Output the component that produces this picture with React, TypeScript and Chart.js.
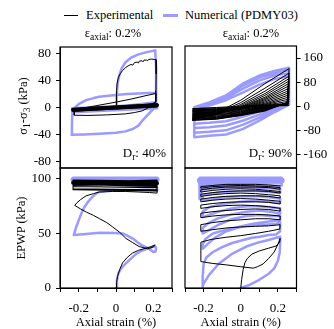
import React, { useEffect, useRef } from 'react';
import { Chart, registerables } from 'chart.js';
Chart.register(...registerables);

const BLUE = '#9a9aff';
const BLACK = '#000000';
const FONT = "'Times New Roman', 'Liberation Serif', 'DejaVu Serif', Times, serif";

type Pair = [number, number];

// ---- axes ----
const strainTicks = [-0.3, -0.2, -0.1, 0, 0.1, 0.2, 0.3];
const strainTickLabels = ['', '-0.2', '', '0', '', '0.2', ''];
const dev40Ticks = [-80, -40, 0, 40, 80];
const dev90Ticks = [-160, -80, 0, 80, 160];
const epwpTicks = [0, 50, 100];

// ---- Dr 40%: deviatoric stress (kPa) vs axial strain (%) ----
const dev40Exp: Pair[] = [
  [0, 0], [0.002, 12], [0.004, 25], [0.006, 36], [0.012, 44], [0.022, 50], [0.035, 55], [0.05, 59], [0.065, 62],
  [0.08, 64], [0.09, 63], [0.1, 67], [0.115, 67.5], [0.12, 66], [0.125, 69], [0.14, 69.5], [0.145, 68], [0.15, 70.5],
  [0.165, 70.5], [0.17, 69.5], [0.175, 71.5], [0.19, 72], [0.205, 71.5], [0.215, 71], [0.215, 50], [0.214, 25],
  [0.212, 8], [0.19, 5], [0.12, 3], [0.03, 1.5], [-0.08, -0.5], [-0.18, -2.5], [-0.225, -3.5], [-0.225, -8],
  [-0.222, -11.5], [-0.15, -11.8], [-0.05, -11], [0.05, -9.5], [0.1, -7.5], [0.14, -5], [0.17, -1], [0.2, 4],
  [0.215, 9], [0.215, 21], [0.15, 17], [0.08, 12.5], [0, 8], [-0.08, 4], [-0.16, 0], [-0.23, -3],
];
const dev40ExpBand: Pair[] = [
  [-0.23, -5], [0.22, 2], [0.22, 5], [-0.23, -2], [-0.23, -6], [0.22, 3], [0.22, 6], [-0.23, -3], [-0.23, -4],
  [0.22, 4], [0.22, 1], [-0.23, -5.5], [-0.23, -1.5], [0.22, 5.5], [0.22, 2.5], [-0.23, -4.5],
];
const dev40ExpCore: Pair[] = [[-0.23, -3.5], [0.22, 3.5]];
const dev40Num: Pair[] = [
  [0, 0], [0.003, 15], [0.009, 36], [0.018, 48], [0.03, 58], [0.05, 67], [0.08, 74], [0.12, 79], [0.16, 82],
  [0.21, 85], [0.215, 60], [0.215, 30], [0.215, 10], [0.212, 3], [0.2, -2], [0.17, -11], [0.14, -20], [0.12, -27],
  [0.09, -32], [0.05, -35.5], [0, -37.5], [-0.09, -39], [-0.17, -40], [-0.238, -40.5], [-0.236, -25],
  [-0.234, -10], [-0.232, -3], [-0.2, 5], [-0.16, 11], [-0.12, 14], [-0.09, 16], [-0.04, 17.5], [0, 18.5],
  [0.06, 20], [0.12, 21], [0.17, 21.5], [0.215, 22], [0.215, 8], [0.1, 4], [0, 1], [-0.1, -2], [-0.232, -5],
];
const dev40NumBand: Pair[] = [
  [-0.235, -7], [0.22, -1], [0.22, 5], [-0.235, -1], [-0.235, -5], [0.22, 2],
];

// ---- Dr 40%: EPWP (kPa) vs axial strain (%) ----
const epwp40Exp: Pair[] = [
  [0, 0], [0.003, 5], [0.008, 10.5], [0.02, 17], [0.035, 23], [0.06, 28], [0.088, 32], [0.12, 34.5], [0.159, 36.5],
  [0.19, 38], [0.21, 39.5], [0.2, 37.5], [0.17, 36], [0.124, 38], [0.09, 41.5], [0.053, 45.5], [0.02, 51],
  [-0.018, 56], [-0.05, 60], [-0.089, 63.6], [-0.12, 66.5], [-0.159, 69.6], [-0.19, 72.5], [-0.221, 75.7],
  [-0.21, 78], [-0.19, 81], [-0.16, 84.5], [-0.12, 86.5], [-0.09, 88], [-0.02, 88.5], [0.05, 88.5], [0.12, 88],
  [0.18, 87.5], [0.22, 87], [0.22, 90],
];
const epwp40ExpBand: Pair[] = [
  [-0.23, 95], [0.22, 93], [0.22, 97], [-0.23, 98], [-0.23, 94], [0.22, 95], [0.22, 99], [-0.23, 97],
  [-0.23, 91], [0.22, 90], [0.22, 94], [-0.23, 96], [-0.23, 99], [0.22, 98], [0.22, 92], [-0.23, 93],
  [-0.23, 90], [0.22, 89], [0.22, 96], [-0.23, 95.5],
];
const epwp40ExpCore: Pair[] = [[-0.23, 96.5], [0.22, 96]];
const epwp40Num: Pair[] = [
  [0, 0], [0.005, 7], [0.013, 13.6], [0.03, 18.5], [0.053, 22.7], [0.08, 27], [0.106, 31], [0.13, 33.5],
  [0.159, 35.4], [0.185, 37], [0.204, 38.5], [0.215, 37], [0.212, 33.5], [0.2, 33], [0.185, 35], [0.165, 37],
  [0.14, 39], [0.124, 40.9], [0.1, 44], [0.088, 45.5], [0.06, 48], [0.035, 50], [0, 50.5], [-0.089, 50.6],
  [-0.16, 49.5], [-0.226, 48.5], [-0.215, 55], [-0.2, 62], [-0.185, 68.5], [-0.17, 74], [-0.15, 79],
  [-0.13, 83], [-0.11, 86], [-0.09, 88], [-0.05, 89], [0, 89.4], [0.08, 89.6], [0.155, 90], [0.22, 89.5],
  [0.22, 92],
];
const epwp40NumBand: Pair[] = [
  [-0.23, 97], [0.22, 98], [0.22, 101], [-0.23, 101], [-0.23, 98.5], [0.22, 99.5],
];
const epwp40NumCore: Pair[] = [[-0.23, 99.5], [0.22, 99.5]];

// ---- Dr 90%: deviatoric stress (kPa) vs axial strain (%) ----
const dev90Exp: Pair[] = [
  [0, 0], [0.13, 3], [0.26, 4],
  [0.25, 2], [0.13, 1], [0, -3], [-0.13, -6], [-0.26, -8],
  [-0.13, -4], [0, 0], [0.13, 3], [0.26, 10],
  [0.25, 4], [0.13, 0], [0, -6], [-0.13, -10], [-0.26, -12],
  [-0.13, -8], [0, -3], [0.13, 3], [0.26, 17],
  [0.25, 5], [0.13, 0], [0, -9], [-0.13, -13], [-0.26, -15],
  [-0.13, -11], [0, -5], [0.13, 5], [0.26, 24],
  [0.25, 6], [0.13, 0], [0, -11], [-0.13, -16], [-0.26, -18],
  [-0.13, -14], [0, -6], [0.13, 7], [0.26, 31],
  [0.25, 7], [0.13, -1], [0, -14], [-0.13, -19], [-0.26, -22],
  [-0.13, -17], [0, -8], [0.13, 10], [0.26, 38],
  [0.25, 8], [0.13, -2], [0, -16], [-0.13, -22], [-0.26, -25],
  [-0.13, -19], [0, -9], [0.13, 14], [0.26, 45],
  [0.25, 8], [0.13, -3], [0, -18], [-0.13, -25], [-0.26, -28],
  [-0.13, -21], [0, -9], [0.13, 18], [0.26, 52],
  [0.25, 9], [0.13, -4], [0, -20], [-0.13, -28], [-0.26, -31],
  [-0.13, -23], [0, -8], [0.13, 22], [0.26, 60],
  [0.25, 9], [0.13, -5], [0, -22], [-0.13, -30], [-0.26, -34],
  [-0.13, -25], [0, -6], [0.13, 26], [0.26, 68],
  [0.25, 10], [0.13, -6], [0, -24], [-0.13, -33], [-0.26, -37],
  [-0.13, -26], [0, -4], [0.13, 30], [0.26, 76],
  [0.25, 10], [0.13, -8], [0, -26], [-0.13, -35], [-0.26, -39],
  [-0.13, -27], [0, -2], [0.13, 36], [0.26, 84],
  [0.25, 10], [0.13, -10], [0, -27], [-0.13, -37], [-0.26, -41],
  [-0.13, -27], [0, 2], [0.13, 42], [0.26, 92],
  [0.25, 11], [0.13, -11], [0, -28], [-0.13, -39], [-0.26, -43],
  [-0.13, -26], [0, 6], [0.13, 50], [0.26, 100],
  [0.25, 11], [0.13, -12], [0, -29], [-0.13, -40], [-0.26, -44],
  [-0.13, -24], [0, 12], [0.13, 60], [0.26, 110],
  [0.25, 12], [0.13, -14], [0, -30], [-0.13, -42], [-0.26, -46],
  [-0.13, -22], [0, 20], [0.13, 75], [0.26, 125],
  [0.25, 12], [0.13, -16], [0, -31], [-0.13, -43], [-0.26, -47],
];
const dev90Num: Pair[] = [
  [-0.25, -58], [-0.17, -55], [-0.08, -50], [0.01, -35], [0.1, -18], [0.18, 0], [0.26, 12], [0.26, 100],
  [0.18, 90], [0.1, 72], [0.01, 45], [-0.08, 20], [-0.17, 2], [-0.25, -10], [-0.25, -72],
  [-0.17, -70], [-0.08, -64], [0.01, -48], [0.1, -28], [0.18, -6], [0.26, 10], [0.26, 110],
  [0.18, 102], [0.1, 85], [0.01, 58], [-0.08, 28], [-0.17, 7], [-0.25, -6], [-0.25, -88],
  [-0.17, -85], [-0.08, -80], [0.01, -62], [0.1, -38], [0.18, -12], [0.26, 8], [0.26, 120],
  [0.18, 110], [0.1, 95], [0.01, 68], [-0.08, 33], [-0.17, 10], [-0.25, -4], [-0.25, -103],
  [-0.17, -98], [-0.08, -94], [0.01, -76], [0.1, -48], [0.18, -20], [0.26, 5], [0.26, 128],
  [0.18, 117], [0.1, 102], [0.01, 75], [-0.08, 36], [-0.17, 13], [-0.25, -3],
];

// ---- Dr 90%: EPWP (kPa) vs axial strain (%) ----
const epwp90Exp: Pair[] = [
  [0, 0], [0.005, 8], [0.013, 17], [0.022, 23], [0.035, 27], [0.06, 31], [0.1, 34], [0.15, 36.5], [0.19, 38.5],
  [0.21, 42], [0.212, 45.5], [0.2, 40], [0.18, 33], [0.15, 27], [0.12, 22], [0.09, 19.5], [0.067, 18.2], [0, 19.5],
  [-0.078, 21.2], [-0.15, 22.5], [-0.214, 24.2],
  [-0.215, 33], [-0.214, 42], [-0.16, 44.5], [-0.08, 46.5], [0, 48], [0.08, 50], [0.15, 52], [0.21, 54], [0.212, 58],
  [0.15, 57], [0.08, 56.5], [0, 56], [-0.08, 55], [-0.15, 53.5], [-0.215, 52],
  [-0.215, 58], [-0.15, 60], [-0.08, 61.5], [0, 62.5], [0.08, 63.5], [0.15, 63.5], [0.212, 62.5], [0.212, 66],
  [0.15, 67], [0.08, 67.5], [0, 67.5], [-0.08, 67], [-0.15, 66], [-0.215, 64.5],
  [-0.215, 68.5], [-0.15, 70], [-0.08, 71], [0, 72], [0.08, 72.5], [0.15, 72], [0.212, 70.5], [0.212, 73],
  [0.15, 74.5], [0.08, 75.5], [0, 76], [-0.08, 75.5], [-0.15, 74.5], [-0.215, 73],
  [-0.215, 76], [-0.15, 77.5], [-0.08, 78.5], [0, 79], [0.08, 79], [0.15, 78.5], [0.212, 77], [0.212, 79.5],
  [0.15, 80.5], [0.08, 81.5], [0, 82], [-0.08, 81.5], [-0.15, 80.5], [-0.215, 79],
  [-0.215, 81.5], [-0.15, 83], [-0.08, 84], [0, 84.5], [0.08, 84.5], [0.15, 84], [0.212, 82.5], [0.212, 84.5],
  [0.15, 85.5], [0.08, 86.5], [0, 87], [-0.08, 86.5], [-0.15, 85.5], [-0.215, 84],
  [-0.215, 86], [-0.15, 87.5], [-0.08, 88.5], [0, 89], [0.08, 89], [0.15, 88.5], [0.212, 87], [0.212, 88.5],
  [0.15, 89.5], [0.08, 90.5], [0, 91], [-0.08, 90.5], [-0.15, 89.5], [-0.215, 88],
  [-0.215, 90], [-0.15, 91.5], [-0.08, 92.5], [0, 92.5], [0.08, 92.5], [0.15, 92], [0.212, 90.5], [0.212, 92],
  [0.15, 93], [0.08, 93.5], [0, 94], [-0.08, 93.5], [-0.15, 93], [-0.215, 91.5],
  [-0.215, 93], [-0.15, 94], [-0.08, 95], [0, 95], [0.08, 95], [0.15, 94.5], [0.212, 93.5],
];
const epwp90Num: Pair[] = [
  [0, 0], [0.05, 3], [0.1, 7.5], [0.15, 13], [0.18, 18], [0.2, 25], [0.21, 33], [0.212, 42], [0.212, 47],
  [0.19, 46], [0.15, 44], [0.1, 42], [0.03, 38], [-0.05, 31], [-0.12, 22], [-0.17, 12], [-0.2, 4], [-0.205, 1],
  [-0.205, 10], [-0.2, 22], [-0.185, 28], [-0.15, 33], [-0.1, 37.5], [-0.05, 41], [0.013, 44], [0.06, 46],
  [0.103, 47], [0.15, 48.5], [0.19, 49], [0.212, 52], [0.212, 60],
  [0.19, 59], [0.13, 58], [0.067, 58], [0, 56], [-0.078, 52], [-0.14, 46], [-0.18, 40], [-0.205, 36],
  [-0.205, 40], [-0.19, 45], [-0.15, 50], [-0.078, 53.5], [0, 56.5], [0.067, 59], [0.15, 61], [0.212, 62], [0.212, 66],
  [0.16, 66], [0.1, 67], [0.03, 66], [-0.05, 63], [-0.12, 58], [-0.17, 53], [-0.205, 50],
  [-0.205, 55], [-0.17, 60], [-0.12, 64], [-0.05, 67.5], [0.03, 70], [0.1, 71], [0.16, 70], [0.212, 68], [0.212, 73],
  [0.16, 74], [0.1, 75], [0.03, 75], [-0.05, 73], [-0.12, 70], [-0.17, 67], [-0.205, 65],
  [-0.205, 70], [-0.17, 74], [-0.1, 77], [0, 79], [0.1, 80], [0.212, 78], [0.212, 82],
  [0.1, 84], [0, 84], [-0.1, 83], [-0.205, 80], [-0.205, 85], [-0.1, 88], [0, 89], [0.1, 89], [0.212, 87],
  [0.212, 91], [0.1, 92], [0, 92.5], [-0.1, 92], [-0.215, 90],
];
const epwp90NumBand: Pair[] = [
  [-0.22, 93], [0.22, 94], [0.22, 101], [-0.22, 101], [-0.22, 95], [0.22, 97], [0.22, 99], [-0.22, 98],
];
const epwp90NumCore: Pair[] = [[-0.22, 98.5], [0.22, 98.5]];
const epwp90NumEdge: Pair[] = [[-0.218, 82], [-0.218, 100]];

type Series = { data: Pair[]; color: string; width: number; order: number };

interface PanelCfg {
  series: Series[];
  yMin: number;
  yMax: number;
  yTicks: number[];
  yPos: 'left' | 'right';
  yLabels: boolean;
  yTickMarks: boolean;
  yWidth: number;
  yPad: number;
  showX: boolean;
  padding: { left: number; right: number; top: number; bottom: number };
}

const boxPlugin = {
  id: 'panelBox',
  afterDatasetsDraw(chart: any) {
    const { ctx, chartArea } = chart;
    const { left, top, right, bottom } = chartArea;
    ctx.save();
    ctx.strokeStyle = '#000';
    ctx.lineWidth = 1.2;
    ctx.strokeRect(left, top, right - left, bottom - top);
    ctx.restore();
  },
};

function buildChart(canvas: HTMLCanvasElement, cfg: PanelCfg) {
  return new Chart(canvas, {
    type: 'scatter',
    data: {
      datasets: cfg.series.map((s) => ({
        data: s.data.map(([x, y]) => ({ x, y })),
        showLine: true,
        borderColor: s.color,
        backgroundColor: s.color,
        borderWidth: s.width,
        pointRadius: 0,
        pointHoverRadius: 0,
        tension: 0,
        fill: false,
        order: s.order,
        borderJoinStyle: 'round',
        borderCapStyle: 'round',
      })),
    },
    options: {
      animation: false,
      responsive: false,
      maintainAspectRatio: false,
      events: [],
      layout: { padding: cfg.padding },
      plugins: { legend: { display: false }, tooltip: { enabled: false }, title: { display: false } },
      scales: {
        x: {
          type: 'linear',
          min: -0.3,
          max: 0.3,
          display: cfg.showX,
          afterBuildTicks: (s: any) => {
            s.ticks = strainTicks.map((v) => ({ value: v }));
          },
          afterFit: (s: any) => {
            if (cfg.showX) s.height = 41;
            s.paddingLeft = 0;
            s.paddingRight = 0;
          },
          ticks: {
            autoSkip: false,
            maxRotation: 0,
            padding: 9,
            color: '#000',
            font: { family: FONT, size: 13 },
            callback: (_v: any, i: number) => strainTickLabels[i],
          },
          grid: { drawOnChartArea: false, drawTicks: true, tickLength: 4, color: '#000' },
          border: { display: true, color: '#000' },
        },
        y: {
          type: 'linear',
          position: cfg.yPos,
          min: cfg.yMin,
          max: cfg.yMax,
          afterBuildTicks: (s: any) => {
            s.ticks = cfg.yTicks.map((v) => ({ value: v }));
          },
          afterFit: (s: any) => {
            s.width = cfg.yWidth;
            s.paddingTop = 0;
            s.paddingBottom = 0;
          },
          ticks: {
            display: cfg.yLabels,
            padding: cfg.yPad,
            autoSkip: false,
            color: '#000',
            font: { family: FONT, size: 13 },
            callback: (v: any) => String(v),
          },
          grid: { drawOnChartArea: false, drawTicks: cfg.yTickMarks, tickLength: 4, color: '#000' },
          border: { display: true, color: '#000' },
        },
      },
    } as any,
    plugins: [boxPlugin],
  } as any);
}

const abs = (s: React.CSSProperties): React.CSSProperties => ({
  position: 'absolute',
  fontFamily: FONT,
  color: '#000',
  whiteSpace: 'nowrap',
  pointerEvents: 'none',
  ...s,
});

export default function App() {
  const tl = useRef<HTMLCanvasElement>(null);
  const bl = useRef<HTMLCanvasElement>(null);
  const tr = useRef<HTMLCanvasElement>(null);
  const br = useRef<HTMLCanvasElement>(null);

  useEffect(() => {
    document.body.style.margin = '0';
    const charts: Chart[] = [];
    charts.push(
      buildChart(tl.current!, {
        series: [
          { data: dev40Exp, color: BLACK, width: 1, order: 0 },
          { data: dev40ExpBand, color: BLACK, width: 1.1, order: 0 },
          { data: dev40ExpCore, color: BLACK, width: 4, order: 0 },
          { data: dev40Num, color: BLUE, width: 2.5, order: 1 },
          { data: dev40NumBand, color: BLUE, width: 2.5, order: 1 },
        ],
        yMin: -90, yMax: 90, yTicks: dev40Ticks, yPos: 'left', yLabels: true, yTickMarks: true,
        yWidth: 60, yPad: 5, showX: false,
        padding: { left: 0, right: 2, top: 7, bottom: 2 },
      })
    );
    charts.push(
      buildChart(bl.current!, {
        series: [
          { data: epwp40Exp, color: BLACK, width: 1, order: 0 },
          { data: epwp40ExpBand, color: BLACK, width: 1.1, order: 0 },
          { data: epwp40ExpCore, color: BLACK, width: 4, order: 0 },
          { data: epwp40Num, color: BLUE, width: 2.5, order: 1 },
          { data: epwp40NumBand, color: BLUE, width: 2.5, order: 1 },
          { data: epwp40NumCore, color: BLUE, width: 5, order: 1 },
        ],
        yMin: 0, yMax: 110, yTicks: epwpTicks, yPos: 'left', yLabels: true, yTickMarks: true,
        yWidth: 60, yPad: 5, showX: true,
        padding: { left: 0, right: 2, top: 8, bottom: 0 },
      })
    );
    charts.push(
      buildChart(tr.current!, {
        series: [
          { data: dev90Exp, color: BLACK, width: 1, order: 0 },
          { data: dev90Num, color: BLUE, width: 2.5, order: 1 },
        ],
        yMin: -205, yMax: 200, yTicks: dev90Ticks, yPos: 'right', yLabels: true, yTickMarks: true,
        yWidth: 37.5, yPad: 3, showX: false,
        padding: { left: 2, right: 0, top: 6, bottom: 2 },
      })
    );
    charts.push(
      buildChart(br.current!, {
        series: [
          { data: epwp90Exp, color: BLACK, width: 1, order: 0 },
          { data: epwp90Num, color: BLUE, width: 2.5, order: 1 },
          { data: epwp90NumBand, color: BLUE, width: 2.5, order: 1 },
          { data: epwp90NumCore, color: BLUE, width: 6, order: 1 },
          { data: epwp90NumEdge, color: BLUE, width: 4, order: 1 },
        ],
        yMin: 0, yMax: 110, yTicks: epwpTicks, yPos: 'right', yLabels: false, yTickMarks: false,
        yWidth: 37.5, yPad: 3, showX: true,
        padding: { left: 2, right: 0, top: 8, bottom: 0 },
      })
    );
    return () => charts.forEach((c) => c.destroy());
  }, []);

  const t125 = { fontSize: 12.5, lineHeight: '18px' };

  return (
    <div style={{ position: 'relative', width: 334, height: 329, background: '#fff', overflow: 'hidden' }}>
      <canvas ref={tl} width={174} height={130} style={{ position: 'absolute', left: 0, top: 40, width: 174, height: 130 }} />
      <canvas ref={bl} width={174} height={169} style={{ position: 'absolute', left: 0, top: 160, width: 174, height: 169 }} />
      <canvas ref={tr} width={151} height={130} style={{ position: 'absolute', left: 183, top: 40, width: 151, height: 130 }} />
      <canvas ref={br} width={151} height={169} style={{ position: 'absolute', left: 183, top: 160, width: 151, height: 169 }} />

      {/* legend */}
      <div style={abs({ left: 64, top: 14.5, width: 14, height: 1.3, background: BLACK })} />
      <div style={abs({ left: 86, top: 6, ...t125 })}>Experimental</div>
      <div style={abs({ left: 163, top: 13.5, width: 15, height: 3, background: BLUE })} />
      <div style={abs({ left: 185, top: 6, ...t125 })}>Numerical (PDMY03)</div>

      {/* panel titles */}
      <div style={abs({ left: 53, top: 24, width: 120, textAlign: 'center', ...t125 })}>
        ε<span style={{ fontSize: 9.5, position: 'relative', top: 3 }}>axial</span>: 0.2%
      </div>
      <div style={abs({ left: 191, top: 24, width: 120, textAlign: 'center', ...t125 })}>
        ε<span style={{ fontSize: 9.5, position: 'relative', top: 3 }}>axial</span>: 0.2%
      </div>

      {/* relative density labels */}
      <div style={abs({ left: 96, top: 143.5, width: 70, textAlign: 'right', ...t125, fontSize: 13 })}>
        D<span style={{ fontSize: 9.5, position: 'relative', top: 3 }}>r</span>: 40%
      </div>
      <div style={abs({ left: 222, top: 143.5, width: 70, textAlign: 'right', ...t125, fontSize: 13 })}>
        D<span style={{ fontSize: 9.5, position: 'relative', top: 3 }}>r</span>: 90%
      </div>

      {/* y titles */}
      <div style={abs({ left: 22.5 - 60, top: 106 - 9, width: 120, height: 18, textAlign: 'center', transform: 'rotate(-90deg)', ...t125 })}>
        σ<span style={{ fontSize: 9.5, position: 'relative', top: 3 }}>1</span>-σ<span style={{ fontSize: 9.5, position: 'relative', top: 3 }}>3</span> (kPa)
      </div>
      <div style={abs({ left: 20.8 - 60, top: 228 - 9, width: 120, height: 18, textAlign: 'center', transform: 'rotate(-90deg)', ...t125 })}>
        EPWP (kPa)
      </div>

      {/* x titles */}
      <div style={abs({ left: 116 - 60, top: 313, width: 120, textAlign: 'center', ...t125 })}>Axial strain (%)</div>
      <div style={abs({ left: 240.75 - 60, top: 313, width: 120, textAlign: 'center', ...t125 })}>Axial strain (%)</div>
    </div>
  );
}
